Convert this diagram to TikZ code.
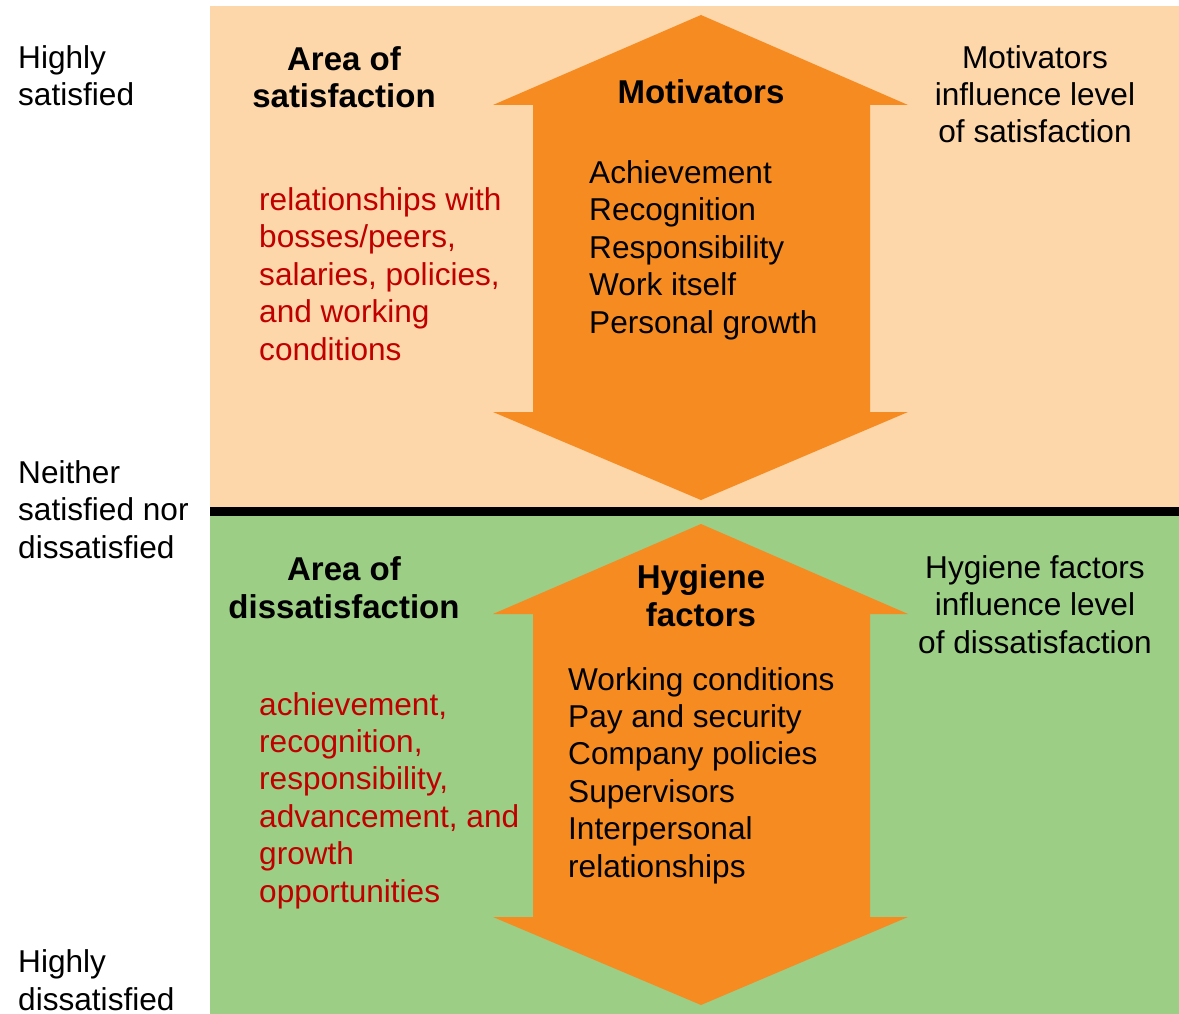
\documentclass[tikz,border=0pt]{standalone}
\usepackage{fontspec}
\setmainfont{Liberation Sans}
\definecolor{peach}{HTML}{FDD6A9}
\definecolor{arroworange}{HTML}{F68B21}
\definecolor{hgreen}{HTML}{9CCE85}
\definecolor{redtxt}{HTML}{C00000}
\begin{document}
\begin{tikzpicture}[x=1pt,y=-1pt,
  txt/.style={inner sep=0pt,font=\fontsize{31.6}{37.4}\selectfont,align=left,anchor=base west},
  ctxt/.style={inner sep=0pt,font=\fontsize{31.6}{37.4}\selectfont,align=center,anchor=base},
  btxt/.style={ctxt,font=\fontsize{33}{37.4}\selectfont\bfseries},
  rtxt/.style={txt,text=redtxt},
  bigarrow/.style={fill=arroworange,draw=none}]
\useasboundingbox (0,0) rectangle (1179,1014);
\fill[white] (0,0) rectangle (1179,1014);
\fill[peach] (210,6) rectangle (1179,507);
\fill[black] (210,507) rectangle (1179,516);
\fill[hgreen] (210,516) rectangle (1179,1014);
% arrows
\fill[bigarrow] (701,15) -- (908,105) -- (870,105) -- (870,412) -- (908,412) -- (701,500)
  -- (493,412) -- (533,412) -- (533,105) -- (493,105) -- cycle;
\fill[bigarrow] (701,524) -- (908,614) -- (870,614) -- (870,917) -- (908,917) -- (701,1005)
  -- (493,917) -- (533,917) -- (533,614) -- (493,614) -- cycle;
% left scale (anchors at the baseline of the last line)
\node[txt] (hs) at (18,106) {Highly\\satisfied};
\node[txt] (ns) at (18,558) {Neither\\satisfied nor\\dissatisfied};
\node[txt] (hd) at (18,1010) {Highly\\dissatisfied};
% upper
\node[btxt] (as) at (344,108) {Area of\\satisfaction};
\node[btxt] (mot) at (701,104) {Motivators};
\node[txt] (ml) at (589,333) {Achievement\\Recognition\\Responsibility\\Work itself\\Personal growth};
\node[rtxt] (rs) at (259,360) {relationships with\\bosses/peers,\\salaries, policies,\\and working\\conditions};
\node[ctxt] (mi) at (1035,143) {Motivators\\influence level\\of satisfaction};
% lower
\node[btxt] (ad) at (344,618) {Area of\\dissatisfaction};
\node[btxt] (hyg) at (701,626) {Hygiene\\factors};
\node[txt] (hl) at (568,877) {Working conditions\\Pay and security\\Company policies\\Supervisors\\Interpersonal\\relationships};
\node[rtxt] (rd) at (259,902) {achievement,\\recognition,\\responsibility,\\advancement, and\\growth\\opportunities};
\node[ctxt] (hi) at (1035,653) {Hygiene factors\\influence level\\of dissatisfaction};
\end{tikzpicture}
\end{document}
